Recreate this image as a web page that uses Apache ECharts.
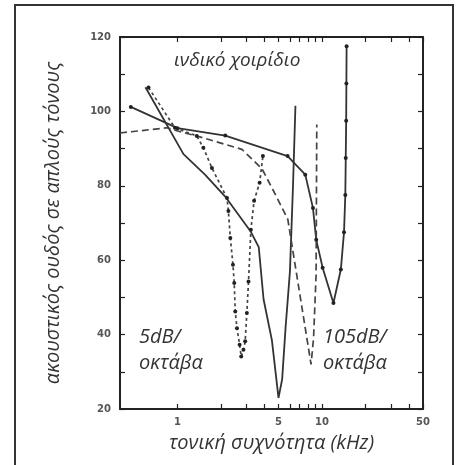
<!DOCTYPE html>
<html>
<head>
<meta charset="utf-8">
<script src="https://cdn.jsdelivr.net/npm/echarts@6/dist/echarts.min.js"></script>
<style>html,body{margin:0;padding:0;background:#fff}#c{width:459px;height:465px}</style>
</head>
<body>
<div id="c"></div>
<script>
// Frequencies (kHz) and thresholds (dB)
const aFreq = [0.475,1.0,2.14,5.78,7.66,8.66,9.12,10.1,12.0,13.5,14.2,14.5,14.6,14.7,14.75,14.8];
const aVal  = [101.2,95.5,93.5,88,83,74,65.5,58,48.5,57.5,67.5,77.5,87.5,97.5,107.5,117.5];
const bFreq = [0.6,1.1,1.55,2.17,3.2,3.65,3.94,4.5,5.0,5.3,5.6,6.0,6.3,6.55];
const bVal  = [106.5,88.5,83,76.8,67.8,63.5,49.5,38.5,23,28,42,57,80,101.5];
const cFreq = [0.4,0.845,1.07,1.36,2.79,3.84,4.75,5.8,8.4,8.74,9.1,9.2];
const cVal  = [94.2,95.6,94.4,93.4,89.8,84.6,77.7,71,32,39,56,96.5];
const dFreq = [0.63,0.96,1.36,1.51,1.73,2.2,2.25,2.32,2.42,2.47,2.51,2.58,2.69,2.76,2.86,2.94,3.02,3.1,3.22,3.39,3.7,3.9];
const dVal  = [106.4,95.6,93.4,90.2,84.8,76.7,73.2,66,58.8,53.9,46.2,41.7,37.3,34.1,35.9,38.2,45.8,54.3,68.2,76,80.8,88];
const xLabelTicks = [1,5,10,50];
const xMinorTicks = [1,2,3,4,5,6,7,8,9,10,20,30,40,50];
const xRange = [0.4,50];
const yRange = [20,120];

const lg = v => Math.log10(v);
const build = (f, v) => f.map((x, i) => [lg(x), v[i]]);

const tickFont = {fontFamily:'DejaVu Sans', fontWeight:'bold', fontSize:10, color:'#555'};
const lineCol = '#222';

function xAx(pos, labels) {
  return {
    type:'value', position:pos, min:lg(xRange[0]), max:lg(xRange[1]),
    axisLine:{show:true, onZero:false, lineStyle:{color:lineCol, width:2}},
    axisTick:{show:true, inside:true, length:5, customValues:xMinorTicks.map(lg), lineStyle:{color:lineCol, width:1.2}},
    axisLabel: labels ? Object.assign({show:true, margin:8, customValues:xLabelTicks.map(lg),
      formatter: v => String(Math.round(Math.pow(10, v)))}, tickFont) : {show:false},
    splitLine:{show:false},
    name: labels ? 'τονική συχνότητα (kHz)' : '',
    nameLocation:'middle', nameGap:24,
    nameTextStyle:{fontFamily:'Open Sans', fontStyle:'italic', fontSize:20, color:'#333'}
  };
}
function yAx(pos, labels) {
  return {
    type:'value', position:pos, min:yRange[0], max:yRange[1], interval:20,
    axisLine:{show:true, onZero:false, lineStyle:{color:lineCol, width:2}},
    axisTick:{show:true, inside:true, length:5, lineStyle:{color:lineCol, width:1.2}},
    minorTick:{show:true, splitNumber:2, length:5, lineStyle:{color:lineCol, width:1.2}},
    axisLabel: labels ? Object.assign({show:true, margin:9}, tickFont) : {show:false},
    splitLine:{show:false},
    name: labels ? 'ακουστικός ουδός σε απλούς τόνους' : '',
    nameLocation:'middle', nameGap:57, nameRotate:90,
    nameTextStyle:{fontFamily:'Open Sans', fontStyle:'italic', fontSize:20, color:'#333'}
  };
}

const chart = echarts.init(document.getElementById('c'), null, {renderer:'canvas'});
const annFont = 'italic 20px "Open Sans"';
chart.setOption({
  animation:false,
  grid:{left:120, right:36, top:37, bottom:56, containLabel:false},
  xAxis:[xAx('bottom', true), xAx('top', false)],
  yAxis:[yAx('left', true), yAx('right', false)],
  series:[
    {type:'line', data:build(aFreq,aVal), symbol:'circle', symbolSize:4,
     itemStyle:{color:'#222'}, lineStyle:{color:'#333', width:1.8}},
    {type:'line', data:build(bFreq,bVal), showSymbol:false, symbol:'none',
     lineStyle:{color:'#333', width:1.8}},
    {type:'line', data:build(cFreq,cVal), showSymbol:false, symbol:'none',
     lineStyle:{color:'#444', width:1.7, type:[7,4]}},
    {type:'line', data:build(dFreq,dVal), symbol:'circle', symbolSize:4,
     itemStyle:{color:'#222'}, lineStyle:{color:'#444', width:1.7, type:[3,3]}}
  ],
  graphic:[
    {type:'rect', shape:{x:15, y:5, width:438, height:480}, style:{fill:'none', stroke:'#333', lineWidth:2}},
    {type:'text', style:{text:'ινδικό χοιρίδιο', x:174, y:61, font:'italic 19px "Open Sans"', fill:'#333', textVerticalAlign:'middle'}},
    {type:'text', style:{text:'5dB/', x:139, y:337, font:annFont, fill:'#333', textVerticalAlign:'middle'}},
    {type:'text', style:{text:'οκτάβα', x:139, y:363, font:annFont, fill:'#333', textVerticalAlign:'middle'}},
    {type:'text', style:{text:'105dB/', x:323, y:337, font:annFont, fill:'#333', textVerticalAlign:'middle'}},
    {type:'text', style:{text:'οκτάβα', x:323, y:363, font:annFont, fill:'#333', textVerticalAlign:'middle'}}
  ]
});
</script>
</body>
</html>
